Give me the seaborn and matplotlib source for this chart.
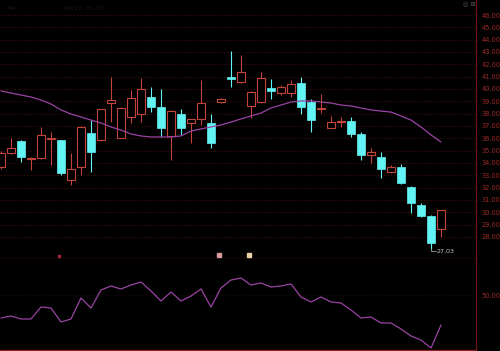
import matplotlib
matplotlib.use("Agg")
import matplotlib.pyplot as plt
import seaborn as sns
import pandas as pd
import numpy as np

# ---- data ----
opens  = [33.67, 34.81, 35.78, 34.32, 34.40, 35.95, 35.86, 32.62, 33.67, 36.43,
          35.86, 38.86, 36.03, 37.73, 37.97, 39.35, 38.54, 36.19, 37.97, 37.24,
          37.57, 37.24, 38.94, 40.97, 40.57, 38.62, 38.94, 40.08, 39.67, 39.67,
          40.49, 38.94, 38.38, 36.84, 37.32, 37.40, 36.35, 34.65, 34.48, 33.27,
          33.67, 32.05, 30.59, 29.70, 28.62]
closes = [34.81, 35.21, 34.48, 34.40, 36.27, 36.03, 33.19, 33.51, 36.92, 34.89,
          38.38, 39.10, 38.46, 39.27, 40.00, 38.54, 36.84, 38.21, 36.84, 37.57,
          38.86, 35.62, 39.19, 40.81, 41.38, 39.76, 40.89, 39.84, 40.16, 40.40,
          38.54, 37.48, 38.46, 37.32, 37.40, 36.35, 34.65, 34.89, 33.51, 33.67,
          32.38, 30.75, 29.70, 27.50, 30.18]
highs  = [35.00, 36.00, 35.90, 34.50, 36.92, 36.50, 35.90, 34.81, 37.00, 37.48,
          38.40, 40.97, 38.50, 39.92, 40.89, 40.16, 40.00, 38.30, 38.38, 37.60,
          40.73, 37.97, 39.25, 43.08, 42.76, 39.80, 41.38, 40.81, 40.30, 40.73,
          40.97, 39.19, 39.59, 37.81, 37.73, 37.73, 36.51, 35.21, 34.89, 33.80,
          33.92, 32.10, 30.75, 29.75, 30.20]
lows   = [33.50, 34.70, 34.08, 33.43, 34.30, 33.83, 33.00, 32.21, 33.00, 33.27,
          35.80, 37.32, 36.00, 37.24, 37.32, 38.13, 36.10, 34.24, 36.27, 35.62,
          37.08, 35.21, 38.90, 40.16, 40.50, 37.65, 38.90, 39.19, 39.50, 39.35,
          37.97, 36.51, 38.05, 36.80, 36.92, 36.10, 34.24, 34.00, 32.78, 33.20,
          32.30, 29.94, 29.60, 27.03, 28.00]
ma_line = [39.84, 39.67, 39.51, 39.35, 39.11, 38.78, 38.30, 37.97, 37.73, 37.48,
           37.24, 36.92, 36.67, 36.35, 36.19, 36.11, 36.11, 36.11, 36.19, 36.59,
           36.76, 36.92, 37.08, 37.32, 37.57, 37.81, 38.05, 38.46, 38.70, 38.94,
           39.03, 39.03, 38.94, 38.86, 38.70, 38.62, 38.46, 38.30, 38.21, 38.13,
           37.81, 37.48, 36.92, 36.27, 35.70]
indicator = [38.5, 39.5, 38.0, 38.0, 44.0, 43.5, 36.5, 38.0, 48.5, 43.5,
             52.5, 54.5, 53.0, 55.0, 56.5, 52.0, 47.0, 51.5, 47.0, 49.5,
             53.0, 44.0, 53.5, 57.5, 58.5, 55.0, 56.0, 54.0, 54.5, 55.5,
             49.0, 46.5, 49.0, 46.5, 46.0, 42.5, 38.5, 39.0, 36.0, 36.0,
             33.0, 29.5, 27.5, 23.5, 35.0]
price_ticks = list(range(28, 47))
ind_ticks = [50]
low_label = "27.03"

df = pd.DataFrame({"i": np.arange(len(opens)), "open": opens, "close": closes,
                   "high": highs, "low": lows, "ma": ma_line, "ind": indicator})

# ---- style ----
sns.set_theme(style="dark", rc={"axes.facecolor": "black", "figure.facecolor": "black"})
plt.rcParams["font.family"] = ["DejaVu Sans"]

RED = "#c2443a"
CYAN = "#62f4f4"
PURPLE = "#9a43a4"
AXRED = "#6e1616"
LBLRED = "#a02a28"
GRID = "#3e0d0d"

W, H = 500, 351
fig = plt.figure(figsize=(W / 100, H / 100), dpi=100, facecolor="black")

def px_axes(x0, y0, x1, y1):
    return fig.add_axes([x0 / W, 1 - y1 / H, (x1 - x0) / W, (y1 - y0) / H])

ax = px_axes(0, 0, 476, 259)
ax2 = px_axes(0, 259, 476, 351)

for a in (ax, ax2):
    a.set_facecolor("black")
    for s in a.spines.values():
        s.set_visible(False)
    a.spines["right"].set_visible(True)
    a.spines["right"].set_color(AXRED)
    a.spines["right"].set_linewidth(0.9)
    a.set_xlim(-0.1, 47.5)
    a.set_xticks([])
    a.grid(False)
    a.yaxis.tick_right()
    a.tick_params(axis="y", length=0, pad=4, labelsize=4.8, labelcolor=LBLRED)

ax.spines["bottom"].set_visible(True)
ax.spines["bottom"].set_color(AXRED)
ax.spines["bottom"].set_linewidth(1.0)

ax.set_ylim(26.211, 47.217)
ax.set_yticks(price_ticks)
ax.set_yticklabels([f"{v:.2f}" for v in price_ticks])
ax.hlines(price_ticks, -0.1, 47.5, colors=GRID, linewidth=0.6,
          linestyles=(0, (2, 2)), zorder=0)

# candles
bw = 0.76
up = df[df["close"] >= df["open"]]
dn = df[df["close"] < df["open"]]
ax.vlines(dn["i"], dn["low"], dn["high"], colors=CYAN, linewidth=0.8, zorder=2)
ax.bar(dn["i"], dn["open"] - dn["close"], bottom=dn["close"], width=bw,
       color=CYAN, edgecolor=CYAN, linewidth=0.5, zorder=3)
ax.vlines(up["i"], up["close"], up["high"], colors=RED, linewidth=0.8, zorder=2)
ax.vlines(up["i"], up["low"], up["open"], colors=RED, linewidth=0.8, zorder=2)
ax.bar(up["i"], np.maximum(up["close"] - up["open"], 0.05), bottom=up["open"],
       width=bw, color="black", edgecolor=RED, linewidth=0.8, zorder=3)

sns.lineplot(data=df, x="i", y="ma", ax=ax, color=PURPLE, linewidth=0.9,
             legend=False, zorder=4)
ax.set_xlabel("")
ax.set_ylabel("")

# low annotation
li = int(np.argmin(lows))
ax.plot([li, li, li + 0.45], [lows[li], lows[li] - 0.18, lows[li] - 0.18],
        color="#bbbbbb", linewidth=0.5, zorder=5)
ax.text(li + 0.55, lows[li] - 0.18, low_label, color="#c8c8c8", fontsize=4.6,
        va="center", ha="left", zorder=5)

# small event markers on divider
ax.plot([5.8], [26.45], "s", ms=2.0, color="#a02838", zorder=5)
ax.plot([21.8], [26.5], "s", ms=2.6, color="#d89a9a", zorder=5)
ax.plot([24.8], [26.5], "s", ms=2.6, color="#ead2a8", zorder=5)

# ---- indicator panel ----
ax2.set_ylim(22.0, 68.0)
ax2.set_yticks(ind_ticks)
ax2.set_yticklabels([f"{v:.2f}" for v in ind_ticks])
ax2.axhline(50, color="#240808", linewidth=0.5, linestyle=(0, (2, 2)), zorder=0)
ax2.axhline(22.6, color="#8c1c1c", linewidth=1.0, zorder=1)
sns.lineplot(data=df, x="i", y="ind", ax=ax2, color=PURPLE, linewidth=0.9,
             legend=False, zorder=3)
ax2.set_xlabel("")
ax2.set_ylabel("")

# faint header texts
fig.text(6 / W, 1 - 8 / H, "MA", color="#171717", fontsize=4.5, va="center")
fig.text(64 / W, 1 - 8 / H, "MA20: 35.70", color="#171717", fontsize=4.5, va="center")
fig.text(463 / W, 1 - 5 / H, "◎ ⊞", color="#555555", fontsize=4.5, va="center")

fig.savefig("out.png", dpi=100, facecolor="black")
